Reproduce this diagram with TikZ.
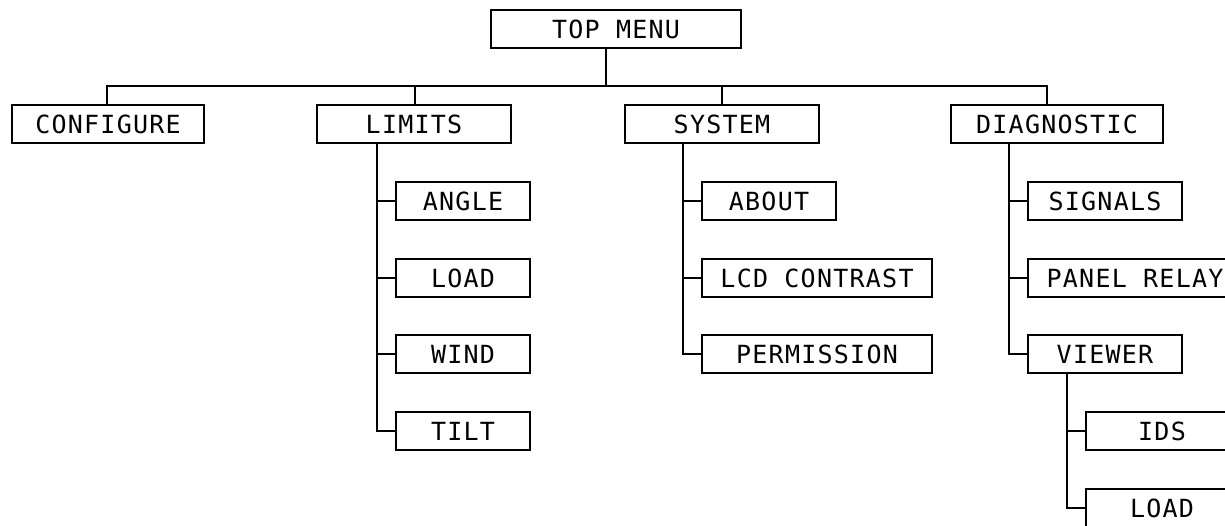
\documentclass[tikz,border=0pt]{standalone}
\usepackage{fontspec}
\newfontfamily\boxfont[LetterSpace=5]{DejaVu Sans Mono}
\begin{document}
\begin{tikzpicture}[x=1pt,y=-1pt,
  box/.style={draw, line width=2pt, minimum height=38pt, inner sep=0pt,
    font=\boxfont\fontsize{25}{29}\selectfont, anchor=center},
  wire/.style={line width=2pt}]
\useasboundingbox (0,0) rectangle (1225,525);
\clip (0,0) rectangle (1225,525);
% nodes
\node[box, minimum width=250pt] (top) at (616,29) {TOP MENU};
\node[box, minimum width=192pt] (conf) at (108,124) {CONFIGURE};
\node[box, minimum width=194pt] (lim) at (414,124) {LIMITS};
\node[box, minimum width=194pt] (sys) at (722,124) {SYSTEM};
\node[box, minimum width=212pt] (diag) at (1057,124) {DIAGNOSTIC};
\node[box, minimum width=134pt] (angle) at (463,201) {ANGLE};
\node[box, minimum width=134pt] (loada) at (463,278) {LOAD};
\node[box, minimum width=134pt] (wind) at (463,354) {WIND};
\node[box, minimum width=134pt] (tilt) at (463,431) {TILT};
\node[box, minimum width=134pt] (about) at (769,201) {ABOUT};
\node[box, minimum width=230pt] (lcd) at (817,278) {LCD CONTRAST};
\node[box, minimum width=230pt] (perm) at (817,354) {PERMISSION};
\node[box, minimum width=154pt] (sig) at (1105,201) {SIGNALS};
\node[box, minimum width=214pt] (panel) at (1135,278) {PANEL RELAY};
\node[box, minimum width=154pt] (view) at (1105,354) {VIEWER};
\node[box, minimum width=152pt] (ids) at (1162,431) {IDS};
\node[box, minimum width=152pt] (loadb) at (1162,508) {LOAD};
% bus
\coordinate (bus) at (606,86);
\coordinate (b0) at (107,86);
\coordinate (b1) at (415,86);
\coordinate (b2) at (722,86);
\coordinate (b3) at (1047,86);
\coordinate (l0) at (377,0);
\coordinate (s0) at (683,0);
\coordinate (d0) at (1009,0);
\coordinate (v0) at (1067,0);
\draw[wire] (top.south -| bus) -- (bus);
\draw[wire] (b0 |- conf.north) -- (b0) -- (b3) -- (b3 |- diag.north);
\draw[wire] (b1 |- lim.north) -- (b1);
\draw[wire] (b2 |- sys.north) -- (b2);
% limits
\draw[wire] (l0 |- lim.south) |- (tilt.west);
\draw[wire] (l0 |- angle.west) -- (angle.west);
\draw[wire] (l0 |- loada.west) -- (loada.west);
\draw[wire] (l0 |- wind.west) -- (wind.west);
% system
\draw[wire] (s0 |- sys.south) |- (perm.west);
\draw[wire] (s0 |- about.west) -- (about.west);
\draw[wire] (s0 |- lcd.west) -- (lcd.west);
% diagnostic
\draw[wire] (d0 |- diag.south) |- (view.west);
\draw[wire] (d0 |- sig.west) -- (sig.west);
\draw[wire] (d0 |- panel.west) -- (panel.west);
% viewer
\draw[wire] (v0 |- view.south) |- (loadb.west);
\draw[wire] (v0 |- ids.west) -- (ids.west);
\end{tikzpicture}
\end{document}
